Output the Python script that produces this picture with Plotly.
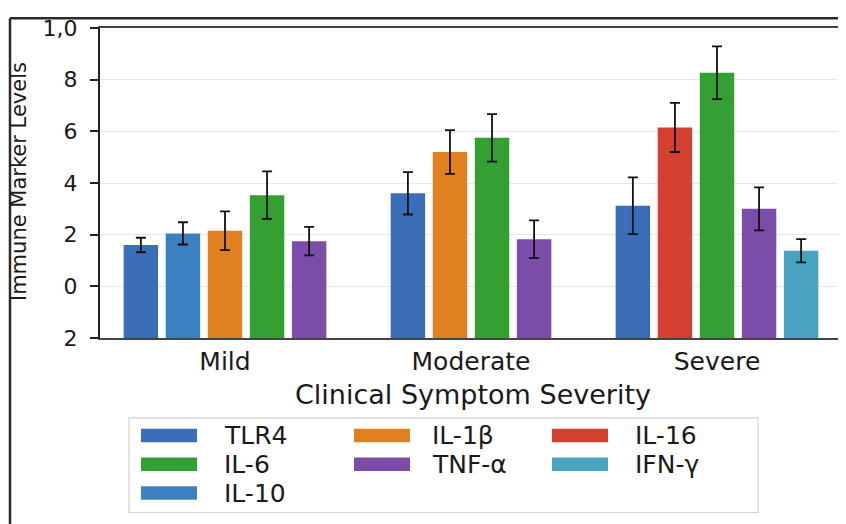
import plotly.graph_objects as go

# ---------------- data ----------------
groups = ["Mild", "Moderate", "Severe"]

mild_markers = ["TLR4", "IL-10", "IL-1β", "IL-6", "TNF-α"]
mild_means = [1.60, 2.05, 2.15, 3.53, 1.75]
mild_errs = [0.28, 0.43, 0.75, 0.92, 0.55]

moderate_markers = ["TLR4", "IL-1β", "IL-6", "TNF-α"]
moderate_means = [3.60, 5.20, 5.75, 1.82]
moderate_errs = [0.82, 0.85, 0.92, 0.73]

severe_markers = ["TLR4", "IL-16", "IL-6", "TNF-α", "IFN-γ"]
severe_means = [3.12, 6.15, 8.27, 3.00, 1.38]
severe_errs = [1.10, 0.95, 1.02, 0.83, 0.45]

legend_order = ["TLR4", "IL-6", "IL-10", "IL-1β", "TNF-α", "IL-16", "IFN-γ"]
legend_column_sizes = [3, 2, 2]
marker_colors = {
    "TLR4": "#3a6fb7",
    "IL-6": "#34a034",
    "IL-10": "#3b80c1",
    "IL-1β": "#e1801f",
    "TNF-α": "#7b4ca8",
    "IL-16": "#d4402f",
    "IFN-γ": "#47a3c0",
}

y_tick_values = [-2, 0, 2, 4, 6, 8, 10]
y_tick_labels = ["2", "0", "2", "4", "6", "8", "1,0"]
AXIS_FLOOR = -2

x_title = "Clinical Symptom Severity"
y_title = "Immune Marker Levels"

# ---------------- layout constants ----------------
OFF = 8                      # page body margin offset
W, H = 846, 524
# targets in page pixels
PLOT_L, PLOT_R, PLOT_T, PLOT_B = 100, 846, 20, 338
ML = PLOT_L - OFF
MT = PLOT_T - OFF
MR = W - (PLOT_R - OFF)
MB = H - (PLOT_B - OFF)
PW, PH = W - ML - MR, H - MT - MB
SLOT = 0.171
BARW = 0.14
FONT = "DejaVu Sans"
TICK0_PX, TICK_STEP_PX = 225, 246


def px2x(px):  # page px -> paper x
    return (px - OFF - ML) / PW


def py2y(py):  # page px -> paper y
    return (H - MB - (py - OFF)) / PH


# ---------------- traces ----------------
group_data = [
    (mild_markers, mild_means, mild_errs),
    (moderate_markers, moderate_means, moderate_errs),
    (severe_markers, severe_means, severe_errs),
]

per_marker = {m: {"x": [], "y": [], "e": []} for m in legend_order}
for gi, (mk, mv, me) in enumerate(group_data):
    n = len(mk)
    for si, (m, v, e) in enumerate(zip(mk, mv, me)):
        per_marker[m]["x"].append(gi + (si - (n - 1) / 2) * SLOT)
        per_marker[m]["y"].append(v - AXIS_FLOOR)
        per_marker[m]["e"].append(e)

fig = go.Figure()
for m in legend_order:
    d = per_marker[m]
    fig.add_trace(go.Bar(
        x=d["x"], y=d["y"], width=BARW, name=m,
        marker=dict(color=marker_colors[m], line=dict(width=0)),
        error_y=dict(type="data", array=d["e"], color="#111111",
                     thickness=1.8, width=5),
        showlegend=False,
    ))

# ---------------- shapes & annotations ----------------
shapes = []
annotations = []

# outer frame (top and left visible)
shapes.append(dict(type="line", xref="paper", yref="paper",
                   x0=px2x(10), x1=px2x(W + 20), y0=py2y(10), y1=py2y(10),
                   line=dict(color="#2a2a2a", width=2.5)))
shapes.append(dict(type="line", xref="paper", yref="paper",
                   x0=px2x(10), x1=px2x(10), y0=py2y(10), y1=py2y(H + 20),
                   line=dict(color="#2a2a2a", width=2.5)))

# legend box
x0p, x1p, y0p, y1p = 129, 758, 420, 517
shapes.append(dict(type="rect", xref="paper", yref="paper",
                   x0=px2x(x0p), x1=px2x(x1p), y0=py2y(y0p), y1=py2y(y1p),
                   line=dict(color="#d2d2d2", width=1.2), fillcolor="white",
                   layer="above"))

col_patch_x = [141, 354, 552]
col_text_x = [222, 430, 633]
row_y = [438, 467.5, 497]
PATCH_W, PATCH_H = 56, 14
idx = 0
for c, size in enumerate(legend_column_sizes):
    for rr in range(size):
        m = legend_order[idx]
        idx += 1
        px0 = col_patch_x[c]
        cy = row_y[rr]
        shapes.append(dict(type="rect", xref="paper", yref="paper",
                           x0=px2x(px0), x1=px2x(px0 + PATCH_W),
                           y0=py2y(cy - PATCH_H / 2), y1=py2y(cy + PATCH_H / 2),
                           line=dict(width=0), fillcolor=marker_colors[m],
                           layer="above"))
        annotations.append(dict(xref="paper", yref="paper",
                                x=px2x(col_text_x[c]), y=py2y(cy),
                                xanchor="left", yanchor="middle", showarrow=False,
                                text=m, font=dict(family=FONT, size=25, color="#1a1a1a")))

# y-axis title
annotations.append(dict(xref="paper", yref="paper", x=px2x(19), y=py2y(178),
                        xanchor="center", yanchor="middle", showarrow=False,
                        textangle=-90, text=y_title,
                        font=dict(family=FONT, size=21, color="#1a1a1a")))

fig.update_layout(
    width=W, height=H,
    margin=dict(l=ML, r=MR, t=MT, b=MB, pad=0),
    paper_bgcolor="white", plot_bgcolor="white",
    barmode="overlay",
    shapes=shapes, annotations=annotations,
    font=dict(family=FONT, color="#1a1a1a"),
    xaxis=dict(
        range=[(PLOT_L - TICK0_PX) / TICK_STEP_PX, (PLOT_R - TICK0_PX) / TICK_STEP_PX],
        tickvals=[0, 1, 2], ticktext=groups,
        showline=True, linecolor="#444444", linewidth=1.5, mirror=True,
        ticks="", showgrid=False, zeroline=False,
        tickfont=dict(family=FONT, size=25, color="#1a1a1a"),
        title=dict(text=x_title, standoff=10,
                   font=dict(family=FONT, size=27, color="#1a1a1a")),
    ),
    yaxis=dict(
        range=[0, 10 - AXIS_FLOOR],
        tickvals=[t - AXIS_FLOOR for t in y_tick_values], ticktext=y_tick_labels,
        showline=True, linecolor="#222222", linewidth=2,
        ticks="outside", ticklen=8, tickwidth=1.5, tickcolor="#222222",
        ticklabelstandoff=8, ticklabeloverflow="allow",
        showgrid=True, gridcolor="#e6e6e6", gridwidth=1, zeroline=False,
        tickfont=dict(family=FONT, size=22, color="#1a1a1a"),
    ),
)

fig.write_html("out.html")
